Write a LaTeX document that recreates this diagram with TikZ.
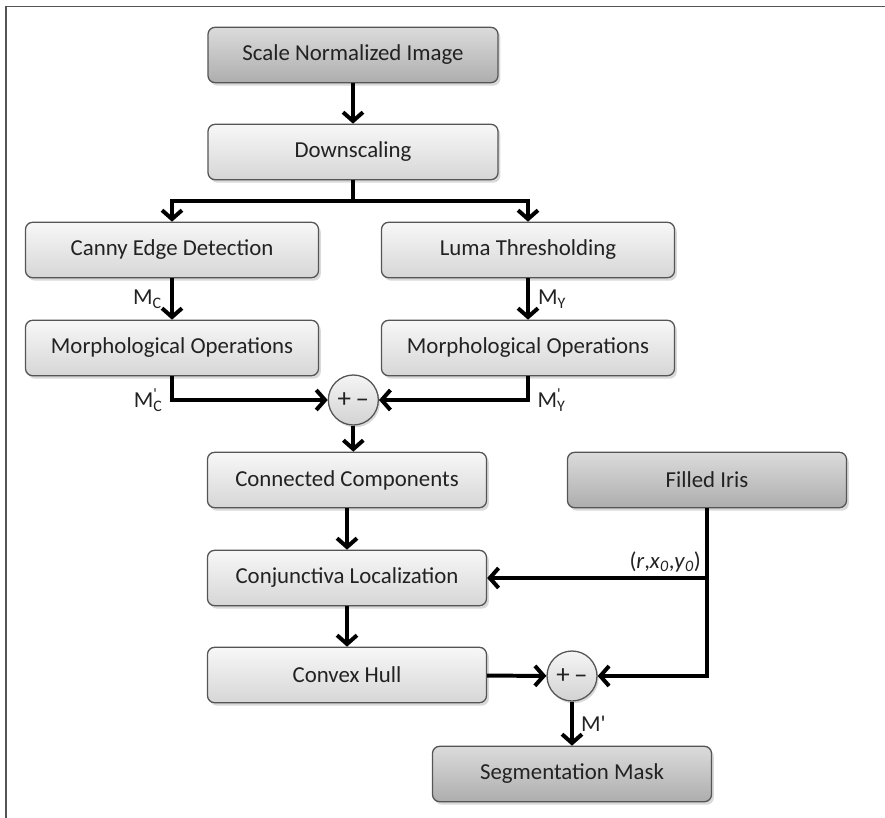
\documentclass[tikz,border=0pt]{standalone}
\usepackage{fontspec}
\setmainfont{Carlito}
\usetikzlibrary{arrows.meta,shadows,calc}
\definecolor{edgegray}{HTML}{555555}
\definecolor{textgray}{HTML}{222222}
\newcommand{\msym}[2]{M\rlap{\textsuperscript{#2}}\textsubscript{#1}}
\begin{document}
\begin{tikzpicture}[font=\fontsize{19.5}{23}\selectfont, text=textgray]
\tikzset{light box/.style={shape=rectangle, rounded corners=6pt, draw=edgegray, line width=1.1pt,
            top color=gray!6, bottom color=gray!32, minimum height=1.66cm,
            drop shadow={shadow xshift=0.07cm, shadow yshift=-0.09cm, opacity=0.3}},
         dark box/.style={light box, top color=gray!28, bottom color=gray!64},
         wide box/.style={minimum width=8.7cm},
         mid box/.style={minimum width=8.79cm},
         narrow box/.style={minimum width=8.37cm},
         sum node/.style={shape=circle, draw=edgegray, line width=1.1pt, inner sep=0pt,
            minimum size=1.5cm, top color=gray!8, bottom color=gray!35,
            font=\fontsize{23}{26}\selectfont,
            drop shadow={shadow xshift=0.05cm, shadow yshift=-0.07cm, opacity=0.3}},
         flow/.style={line width=3.4pt, draw=black, -{Straight Barb[length=7.5pt,width=17pt]}}}
\useasboundingbox (0,0) rectangle (26.55,-24.54);

% frame (only top and left edges show)
\draw[edgegray, line width=1.7pt] (0.17,-24.54) -- (0.17,-0.195) -- (26.55,-0.195);

\node[dark box, wide box]    at (10.59, -1.65)   (1)  {Scale Normalized Image};
\node[light box, wide box]   at (10.59, -4.56)   (2)  {Downscaling};
\node[light box, mid box]    at (5.16, -7.5)     (3)  {Canny Edge Detection};
\node[light box, mid box]    at (15.84, -7.5)    (4)  {Luma Thresholding};
\node[light box, mid box]    at (5.16, -10.44)   (5)  {Morphological Operations};
\node[light box, mid box]    at (15.84, -10.44)  (6)  {Morphological Operations};
\node[sum node]              at (10.6, -12.0)    (12) {+\,\textendash};

\node[light box, narrow box] at (10.41, -14.4)   (7)  {Connected Components};
\node[dark box, narrow box]  at (21.21, -14.4)   (8)  {Filled Iris};
\node[light box, narrow box] at (10.41, -17.34)  (9)  {Conjunctiva Localization};
\node[light box, narrow box] at (10.41, -20.25)  (10) {Convex Hull};
\node[sum node]              at (17.16, -20.28)  (13) {+\,\textendash};
\node[dark box, narrow box]  at (17.16, -23.22)  (11) {Segmentation Mask};

\coordinate (split) at ($(2.south)+(0,-0.63)$);
\coordinate (tap) at (8.south |- 9.east);

\draw[line width=3.4pt] (2.south) -- (split);
\draw[flow] (split) -| (3);
\draw[flow] (split) -| (4);
\draw[flow] (1) -- (2);
\draw[flow] (3) -- node[left, inner sep=7pt] {\msym{C}{}} (5);
\draw[flow] (4) -- node[right, inner sep=7pt] {\msym{Y}{}} (6);
\draw[flow] (5.south) |- (12.west);
\draw[flow] (6.south) |- (12.east);
\node[left, inner sep=8pt] at (5.south |- 12) {\msym{C}{\textquotesingle}};
\node[right, inner sep=8pt] at (6.south |- 12) {\msym{Y}{\textquotesingle}};
\draw[flow] (12) -- (12 |- 7.north);
\draw[flow] (7) -- (9);
\draw[flow] (9) -- (10);
\draw[flow] (10) -- (13);
\draw[flow] (8.south) |- (13.east);
\draw[flow] (tap) -- (9.east);
\node[above left, inner sep=5pt] at (tap) {(\textit{r},\textit{x}\textsubscript{\textit{0}},\textit{y}\textsubscript{\textit{0}})};
\draw[flow] (13) -- node[right, inner sep=6pt] {M\textquotesingle} (11);
\end{tikzpicture}
\end{document}
